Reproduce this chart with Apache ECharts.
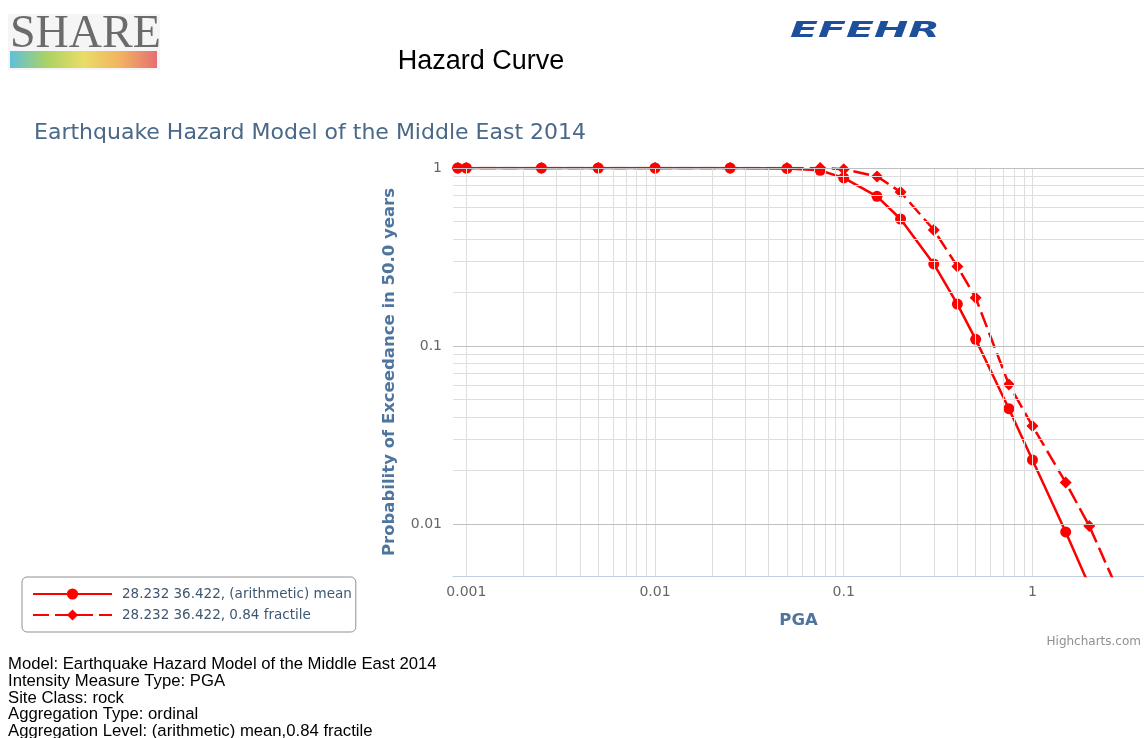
<!DOCTYPE html>
<html>
<head>
<meta charset="utf-8">
<title>Hazard Curve</title>
<script src="https://cdn.jsdelivr.net/npm/echarts@6/dist/echarts.min.js"></script>
<style>
  html, body { margin: 0; padding: 0; background: #ffffff; }
  #chart { width: 1144px; height: 738px; }
</style>
</head>
<body>
<div id="chart"></div>
<script>
// Intensity measure levels (PGA, g)
const pga = [0.0009, 0.001, 0.0025, 0.005, 0.01, 0.025, 0.05, 0.075, 0.1, 0.15,
             0.2, 0.3, 0.4, 0.5, 0.75, 1, 1.5, 2, 3];
// Probability of exceedance in 50 years, arithmetic mean
const meanPoE = [1, 1, 1, 1, 1, 1, 0.995, 0.97, 0.879, 0.693,
                 0.517, 0.289, 0.172, 0.109, 0.0444, 0.0229, 0.00902, 0.0045];
// Probability of exceedance in 50 years, 0.84 fractile
const fractilePoE = [1, 1, 1, 1, 1, 1, 1, 0.999, 0.985, 0.897,
                     0.733, 0.449, 0.28, 0.1865, 0.0608, 0.0355, 0.0171, 0.00975, 0.0037];

const seriesNames = ['28.232 36.422, (arithmetic) mean', '28.232 36.422, 0.84 fractile'];

// Logarithmic grid: decade starts and the 1..9 multipliers inside each decade
const xDecades = [0.001, 0.01, 0.1];
const yDecades = [0.01, 0.1];
const multipliers = [1, 2, 3, 4, 5, 6, 7, 8, 9];
const yMajorLines = [0.01, 0.1, 1];

const infoLines = [
  'Model: Earthquake Hazard Model of the Middle East 2014',
  'Intensity Measure Type: PGA',
  'Site Class: rock',
  'Aggregation Type: ordinal',
  'Aggregation Level: (arithmetic) mean,0.84 fractile'
];

const pairs = (xs, ys) => ys.map((y, i) => [xs[i], y]);

const xGridLines = [];
xDecades.forEach(d => multipliers.forEach(m => xGridLines.push(+(d * m).toPrecision(3))));
xGridLines.push(1);
const yMinorLines = [];
yDecades.forEach(d => multipliers.slice(1).forEach(m => yMinorLines.push(+(d * m).toPrecision(3))));

function decadeLabel(v) {
  const e = Math.log10(v);
  if (Math.abs(e - Math.round(e)) > 1e-6) return '';
  return String(+Math.pow(10, Math.round(e)).toPrecision(1));
}

const RED = '#ff0000';
const labelFont = { fontFamily: 'DejaVu Sans', fontSize: 14, color: '#666666' };
const axisNameFont = { fontFamily: 'DejaVu Sans', fontSize: 16.5, fontWeight: 'bold', color: '#4d759e' };

const chart = echarts.init(document.getElementById('chart'), null, { renderer: 'canvas' });

chart.setOption({
  animation: false,
  backgroundColor: '#ffffff',
  title: {
    text: 'Earthquake Hazard Model of the Middle East 2014',
    left: 34,
    top: 122,
    padding: 0,
    textStyle: { fontFamily: 'DejaVu Sans', fontSize: 22, fontWeight: 'normal', color: '#4a6887' }
  },
  grid: { left: 453, right: 0, top: 168, bottom: 162, containLabel: false },
  xAxis: {
    type: 'log',
    logBase: 10,
    min: 0.00085,
    max: 3.9,
    name: 'PGA',
    nameLocation: 'middle',
    nameGap: 36,
    nameTextStyle: axisNameFont,
    axisLine: { show: true, lineStyle: { color: '#c0d0e0', width: 1 } },
    axisTick: { show: false },
    splitLine: { show: false },
    axisLabel: {
      margin: 9,
      showMinLabel: false,
      showMaxLabel: false,
      formatter: decadeLabel,
      ...labelFont
    }
  },
  yAxis: {
    type: 'log',
    logBase: 10,
    min: 0.0051,
    max: 1,
    name: 'Probability of Exceedance in 50.0 years',
    nameLocation: 'middle',
    nameGap: 55,
    nameTextStyle: axisNameFont,
    axisLine: { show: false },
    axisTick: { show: false },
    splitLine: { show: false },
    axisLabel: {
      margin: 11,
      showMinLabel: false,
      formatter: decadeLabel,
      ...labelFont
    }
  },
  legend: {
    orient: 'vertical',
    left: 22,
    top: 577,
    data: seriesNames,
    itemWidth: 79,
    itemHeight: 14,
    itemGap: 7,
    padding: [10, 4, 10, 10],
    borderColor: '#909090',
    borderWidth: 1,
    borderRadius: 5,
    textStyle: { fontFamily: 'DejaVu Sans', fontSize: 13.5, color: '#3e576f', padding: [0, 0, 0, 5] }
  },
  series: [
    {
      // background grid drawn through the axis scales
      name: 'grid',
      type: 'line',
      data: [],
      silent: true,
      z: 1,
      markLine: {
        silent: true,
        animation: false,
        precision: 8,
        symbol: ['none', 'none'],
        label: { show: false },
        emphasis: { disabled: true },
        lineStyle: { color: '#dedede', width: 1, type: 'solid' },
        data: [
          ...xGridLines.map(v => ({ xAxis: v })),
          ...yMinorLines.map(v => ({ yAxis: v })),
          ...yMajorLines.map(v => ({ yAxis: v, lineStyle: { color: '#c0c0c0', width: 1, type: 'solid' } }))
        ]
      }
    },
    {
      name: seriesNames[0],
      type: 'line',
      data: pairs(pga, meanPoE),
      symbol: 'circle',
      symbolSize: 11,
      z: 3,
      itemStyle: { color: RED },
      lineStyle: { color: RED, width: 2.5 }
    },
    {
      name: seriesNames[1],
      type: 'line',
      data: pairs(pga, fractilePoE),
      symbol: 'diamond',
      symbolSize: 12,
      z: 3,
      itemStyle: { color: RED },
      lineStyle: { color: RED, width: 2.5, type: [16, 6] }
    }
  ],
  graphic: [
    // SHARE logo
    { type: 'rect', left: 8, top: 14, shape: { width: 152, height: 56 }, style: { fill: '#f5f5f5' }, silent: true },
    {
      type: 'rect', left: 10, top: 51, shape: { width: 147, height: 17 }, silent: true,
      style: {
        fill: new echarts.graphic.LinearGradient(0, 0, 1, 0, [
          { offset: 0, color: '#45b6d6' },
          { offset: 0.25, color: '#9ccc4a' },
          { offset: 0.5, color: '#e8d84e' },
          { offset: 0.75, color: '#f0a848' },
          { offset: 1, color: '#e2585a' }
        ]),
        opacity: 0.85
      }
    },
    {
      type: 'text', left: 10, top: 12, silent: true,
      style: { text: 'SHARE', font: '46px "Liberation Serif"', fill: '#6b6b6b' }
    },
    // EFEHR logo
    {
      type: 'text', x: 790, y: 21, scaleX: 1.95, silent: true,
      style: { text: 'EFEHR', font: 'italic bold 21px "DejaVu Sans"', fill: '#1d4f9b' }
    },
    // page heading
    {
      type: 'text', x: 481, y: 62, silent: true,
      style: { text: 'Hazard Curve', font: '27px "Liberation Sans"', fill: '#000000', align: 'center', verticalAlign: 'middle' }
    },
    // credit
    {
      type: 'text', x: 1141, y: 642, silent: true,
      style: { text: 'Highcharts.com', font: '12px "DejaVu Sans"', fill: '#909090', align: 'right', verticalAlign: 'middle' }
    },
    // model description
    {
      type: 'text', x: 8, y: 656, silent: true,
      style: { text: infoLines.join('\n'), font: '16.7px "Liberation Sans"', lineHeight: 16.8, fill: '#000000' }
    }
  ]
});
</script>
</body>
</html>
